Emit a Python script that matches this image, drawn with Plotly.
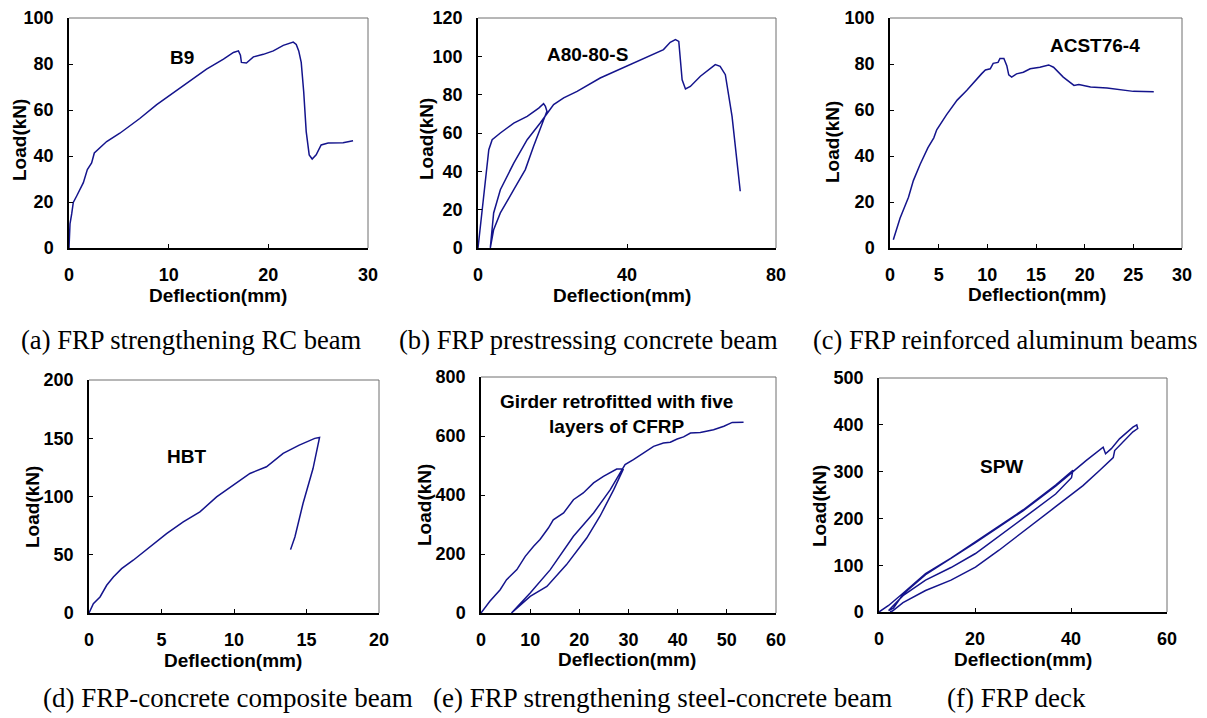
import plotly.graph_objects as go

# ---------------- data ----------------
# (a) B9
a_x = [0, 0.1, 0.27, 0.43, 0.77, 1.44, 1.84, 2.27, 2.54, 3.1, 3.78, 5.1, 7.1, 8.8, 10.8, 13.1, 13.8,
       15.5, 16.5, 17.0, 17.2, 17.3, 17.8, 18.5, 19.5, 20.5, 21.5, 22.5, 22.8, 23.05, 23.3, 23.55,
       23.8, 24.1, 24.4, 24.8, 25.3, 26.0, 27.5, 28.5]
a_y = [0, 10.5, 14.8, 19.8, 22.6, 28.4, 34.1, 37.0, 41.3, 43.7, 46.3, 49.9, 56.3, 62.3, 68.5, 75.6, 77.8,
       82.1, 85.0, 85.7, 83.8, 80.7, 80.4, 83.1, 84.2, 85.7, 88.1, 89.5, 88.5, 85.7, 80.7, 67.8,
       50.6, 40.5, 38.7, 40.5, 44.8, 45.6, 45.8, 46.6]

# (b) A80-80-S
b_x = [0, 1.07, 1.97, 2.4, 2.9, 3.8, 6.0, 9.6, 13.2, 16.3, 17.6, 18.1, 18.5, 14.9, 12.7, 9.6, 6.0, 4.2,
       3.3, 4.2, 6.0, 9.6, 13.2, 16.7, 18.7, 20.3, 23.0, 26.6, 32.8, 41.8, 47.2, 49.8, 51.6, 53.0,
       53.9, 54.3, 54.8, 55.7, 57.0, 59.7, 63.7, 65.0, 66.4, 68.2, 69.1, 70.4]
b_y = [0, 18.3, 32.2, 42.6, 51.3, 56.5, 60.0, 65.2, 68.7, 73.0, 75.3, 73.9, 71.3, 53.0, 40.9, 30.4, 18.3,
       9.6, 0, 18.3, 30.4, 44.3, 56.5, 65.2, 70.4, 74.8, 78.3, 81.7, 88.7, 96.5, 100.9, 103.5, 107.3,
       108.7, 107.8, 100.0, 87.8, 83.0, 84.3, 89.6, 95.7, 94.8, 90.4, 68.7, 51.3, 29.6]

# (c) ACST76-4
c_x = [0.34, 1.03, 1.9, 2.4, 3.1, 3.4, 3.9, 4.5, 4.8, 5.8, 6.9, 7.9, 8.6, 9.4, 9.8, 10.3, 10.6, 11.1,
       11.3, 11.7, 12.0, 12.2, 12.5, 13.0, 13.7, 14.4, 15.4, 16.3, 16.8, 17.8, 18.9, 19.4, 20.6,
       22.3, 25.0, 27.1]
c_y = [3.6, 12.9, 22.1, 29.3, 36.4, 39.3, 43.6, 47.9, 51.4, 57.9, 64.3, 68.6, 72.1, 75.7, 77.4, 77.9,
       80.3, 80.7, 82.4, 82.4, 79.3, 75.3, 74.3, 75.7, 76.4, 77.9, 78.6, 79.6, 78.6, 74.3, 70.7,
       71.1, 70.0, 69.6, 68.1, 67.9]

# (d) HBT
d_x = [0, 0.3, 0.76, 1.22, 1.68, 2.25, 3.05, 4.2, 5.35, 6.5, 7.65, 8.8, 9.94, 11.1, 12.24, 13.39,
       14.5, 15.57, 15.9, 15.45, 14.76, 14.2, 13.9]
d_y = [0, 8, 13.8, 23.8, 30.9, 38.1, 45.3, 56.7, 68.2, 78.2, 86.8, 99.7, 109.7, 119.8, 125.5, 137.0,
       144.1, 149.9, 150.7, 124, 94, 65.3, 54.4]

# (e) Girder retrofitted with five layers of CFRP
e_x = [0, 1.8, 3.9, 5.2, 7.3, 9.0, 10.7, 12.0, 13.7, 14.7, 16.8, 18.8, 20.8, 22.9, 24.9, 27.6, 28.6,
       28.9, 27.0, 24.2, 21.5, 17.4, 13.4, 10.0, 6.2, 10.0, 14.1, 18.8, 22.9, 26.3, 28.3, 29.3, 31.0,
       33.1, 35.1, 37.1, 38.5, 39.9, 41.2, 42.6, 44.6, 47.3, 49.4, 51.1, 53.4]
e_y = [0, 39.5, 79, 113, 147, 192, 226, 249, 288, 316, 339, 384, 407, 441, 463, 488, 488,
       486, 418, 328, 254, 164, 90, 56.5, 0, 68, 147, 260, 339, 418, 475, 503, 520,
       542, 565, 576, 579, 590, 597, 610, 612, 621, 633, 646, 647]

# (f) SPW
f_x = [0, 2, 5, 9.7, 15, 20.1, 25, 30, 36.8, 40.4,
       40.1, 36.8, 30, 25, 20.1, 15, 9.7, 5, 2.6, 2,
       3, 5, 9.7, 15, 20.1, 25, 30, 36.8, 40.4, 43.2, 46.7, 47.2, 48.4, 50.1, 52.9, 53.7, 53.9,
       52.9, 49.1, 48.8, 46.0, 42.5, 36.8, 30, 25, 20.1, 15, 9.7, 5, 2.8, 2.3]
f_y = [0, 14, 40, 82, 115, 150, 184, 218, 271, 303,
       287, 252, 200, 163, 125, 95, 68, 35, 10, 3,
       8, 38, 80, 114, 148, 182, 216, 269, 300, 324, 352, 338, 349, 370, 395, 400, 392,
       385, 345, 330, 303, 270, 225, 172, 132, 96, 68, 46, 20, 2, 0]

x_title = "Deflection(mm)"
y_title = "Load(kN)"
labels = ["B9", "A80-80-S", "ACST76-4", "HBT", "Girder retrofitted with five<br>layers of CFRP", "SPW"]
captions = ["(a) FRP strengthening RC beam", "(b) FRP prestressing concrete beam",
            "(c) FRP reinforced aluminum beams", "(d) FRP-concrete composite beam",
            "(e) FRP strengthening steel-concrete beam", "(f) FRP deck"]

# ---------------- layout ----------------
PAGE_W, PAGE_H = 1207, 718
OFF = 8                      # default page margin above / left of the plot div
W, H = PAGE_W - OFF, PAGE_H - OFF
LINE = "#14148c"
SANS = "Liberation Sans, Arial, sans-serif"
SERIF = "Liberation Serif, Times New Roman, serif"


def px(x):
    return min(max((x - OFF) / W, 0), 1)


def py(y):
    return min(max(1 - (y - OFF) / H, 0), 1)


panels = [
    dict(x=a_x, y=a_y, box=(69, 368, 18, 248), xr=[0, 30], xd=10, yr=[0, 100], yd=20,
         lab=(11.3, 82.8), yt=(20, 140), xt=(218, 295), cap=(191, 340), cs=26.6),
    dict(x=b_x, y=b_y, box=(478, 776, 18, 248), xr=[0, 80], xd=40, yr=[0, 120], yd=20,
         lab=(29.3, 100.9), yt=(427, 139), xt=(622, 295), cap=(588, 340), cs=26.6),
    dict(x=c_x, y=c_y, box=(890, 1182, 18, 248), xr=[0, 30], xd=5, yr=[0, 100], yd=20,
         lab=(21.1, 87.9), yt=(833, 142), xt=(1037, 294), cap=(1005, 340), cs=26.4),
    dict(x=d_x, y=d_y, box=(89, 379, 380, 613), xr=[0, 20], xd=5, yr=[0, 200], yd=50,
         lab=(6.7, 134.7), yt=(33, 507), xt=(233, 660), cap=(228, 698), cs=27),
    dict(x=e_x, y=e_y, box=(481, 776, 377, 613), xr=[0, 60], xd=10, yr=[0, 800], yd=200,
         lab=(27.6, 676), yt=(425, 505), xt=(627, 659), cap=(662, 698), cs=27),
    dict(x=f_x, y=f_y, box=(879, 1167, 378, 612), xr=[0, 60], xd=20, yr=[0, 500], yd=100,
         lab=(25.5, 310), yt=(820, 506), xt=(1023, 659), cap=(1016, 698), cs=27),
]


def ticks(rng, step):
    vals = list(range(rng[0], rng[1] + 1, step))
    return vals, ["<b>%d</b>" % v for v in vals]


fig = go.Figure()
annotations = []
shapes = []
bold = dict(family=SANS, size=19, color="black")
for i, p in enumerate(panels):
    n = "" if i == 0 else str(i + 1)
    xa, ya = "x" + n, "y" + n
    fig.add_trace(go.Scatter(x=p["x"], y=p["y"], mode="lines", xaxis=xa, yaxis=ya,
                             line=dict(color=LINE, width=1.5), showlegend=False,
                             hoverinfo="x+y", cliponaxis=False))
    l, r, t, b = p["box"]
    common = dict(showgrid=False, zeroline=False, showline=True, linecolor="black", linewidth=1.5,
                  ticks="inside", ticklen=4, tickcolor="black", mirror=False, automargin=False,
                  ticklabeloverflow="allow",
                  tickfont=dict(family=SANS, size=18, color="black"))
    xv, xt = ticks(p["xr"], p["xd"])
    yv, yt = ticks(p["yr"], p["yd"])
    fig.layout["xaxis" + n] = dict(domain=[px(l), px(r)], range=p["xr"], tickmode="array",
                                   tickvals=xv, ticktext=xt, anchor=ya, ticklabelstandoff=10, **common)
    fig.layout["yaxis" + n] = dict(domain=[py(b), py(t)], range=p["yr"], tickmode="array",
                                   tickvals=yv, ticktext=yt, anchor=xa, ticklabelstandoff=10, **common)
    # top and right frame lines (grey)
    for x0, y0, x1, y1 in [(0, 1, 1, 1), (1, 0, 1, 1)]:
        shapes.append(dict(type="line", xref=xa + " domain", yref=ya + " domain",
                           x0=x0, y0=y0, x1=x1, y1=y1, line=dict(color="#6e6e6e", width=1)))
    # series label
    annotations.append(dict(x=p["lab"][0], y=p["lab"][1], xref=xa, yref=ya,
                            text="<b>%s</b>" % labels[i], showarrow=False, font=bold,
                            align="center", xanchor="center", yanchor="middle"))
    # axis titles
    annotations.append(dict(x=px(p["xt"][0]), y=py(p["xt"][1]), xref="paper", yref="paper",
                            text="<b>%s</b>" % x_title, showarrow=False, font=bold,
                            xanchor="center", yanchor="middle"))
    annotations.append(dict(x=px(p["yt"][0]), y=py(p["yt"][1]), xref="paper", yref="paper",
                            text="<b>%s</b>" % y_title, showarrow=False, textangle=-90, font=bold,
                            xanchor="center", yanchor="middle"))
    # caption
    annotations.append(dict(x=px(p["cap"][0]), y=py(p["cap"][1]), xref="paper", yref="paper",
                            text=captions[i], showarrow=False, xanchor="center", yanchor="middle",
                            font=dict(family=SERIF, size=p["cs"], color="black")))

fig.update_layout(width=W, height=H, margin=dict(l=0, r=0, t=0, b=0, autoexpand=False),
                  paper_bgcolor="white", plot_bgcolor="white",
                  annotations=annotations, shapes=shapes, showlegend=False)

fig.write_html("out.html")
